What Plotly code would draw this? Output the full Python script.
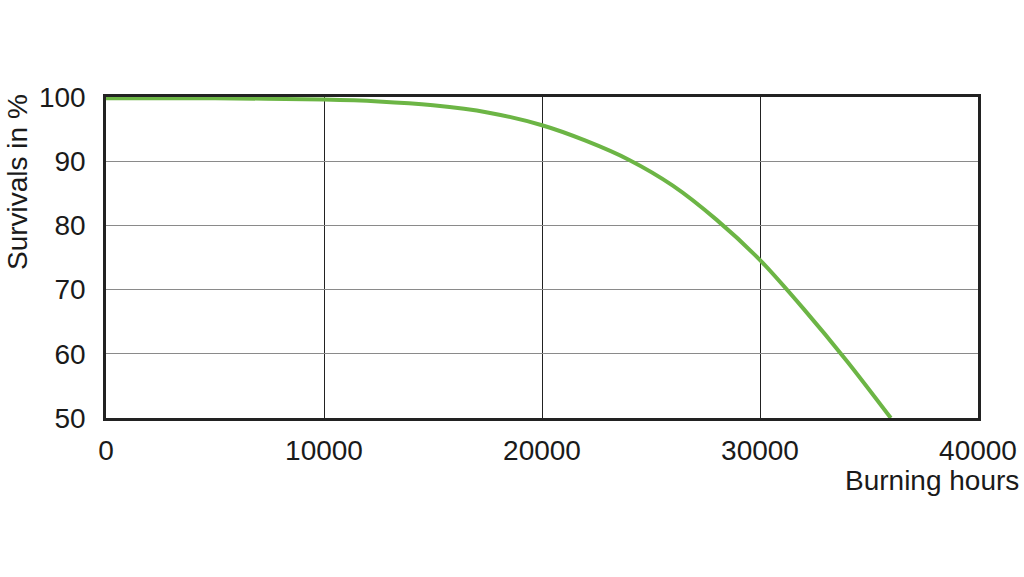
import plotly.graph_objects as go

hours = [0, 5000, 10000, 12500, 15000, 17500, 20000, 22000, 24000, 26000, 28000, 30000, 32000, 34000, 36000]
survival = [99.8, 99.8, 99.6, 99.3, 98.7, 97.6, 95.6, 93.2, 90.2, 86.2, 80.9, 74.6, 67.0, 58.8, 50.0]

x_ticks = [0, 10000, 20000, 30000, 40000]
y_ticks = [50, 60, 70, 80, 90, 100]

fig = go.Figure()
fig.add_trace(go.Scatter(x=hours, y=survival, mode="lines",
                         line=dict(color="#6cb545", width=4, shape="spline", smoothing=0.8),
                         cliponaxis=False, showlegend=False))

font = dict(family="Liberation Sans, Arial, sans-serif", color="#1a1a1a")

L, R, T, B = 106, 46, 97, 159
W, H = 1024, 577
pw = W - L - R
ph = H - T - B

fig.update_layout(
    width=W, height=H, autosize=False,
    margin=dict(l=L, r=R, t=T, b=B, pad=0, autoexpand=False),
    paper_bgcolor="white", plot_bgcolor="white",
    font=font,
    xaxis=dict(range=[0, 40000], tickvals=x_ticks, ticktext=[str(v) for v in x_ticks],
               showgrid=True, gridcolor="#222222", gridwidth=1.2,
               showline=True, linecolor="#222222", linewidth=2.5, mirror=True,
               zeroline=False, ticks="", tickfont=dict(size=28, **font),
               ticklabelstandoff=6, automargin=False),
    yaxis=dict(range=[50, 100], tickvals=y_ticks, ticktext=[str(v) for v in y_ticks],
               showgrid=True, gridcolor="#8a8a8a", gridwidth=1.2,
               showline=True, linecolor="#222222", linewidth=2.5, mirror=True,
               zeroline=False, ticks="", tickfont=dict(size=28, **font),
               ticklabelstandoff=12, automargin=False),
    annotations=[
        dict(text="Burning hours", xref="paper", yref="paper",
             x=(1021 - L) / pw, y=(H - B - 480) / ph,
             xanchor="right", yanchor="middle", showarrow=False,
             font=dict(size=28, **font)),
        dict(text="Survivals in %", textangle=-90, xref="paper", yref="paper",
             x=(17 - L) / pw, y=(H - B - 182) / ph,
             xanchor="center", yanchor="middle", showarrow=False,
             font=dict(size=28, **font)),
    ],
)

fig.write_html("out.html", config={"displayModeBar": False},
               post_script="document.body.style.margin='0px';document.body.style.overflow='hidden';")
